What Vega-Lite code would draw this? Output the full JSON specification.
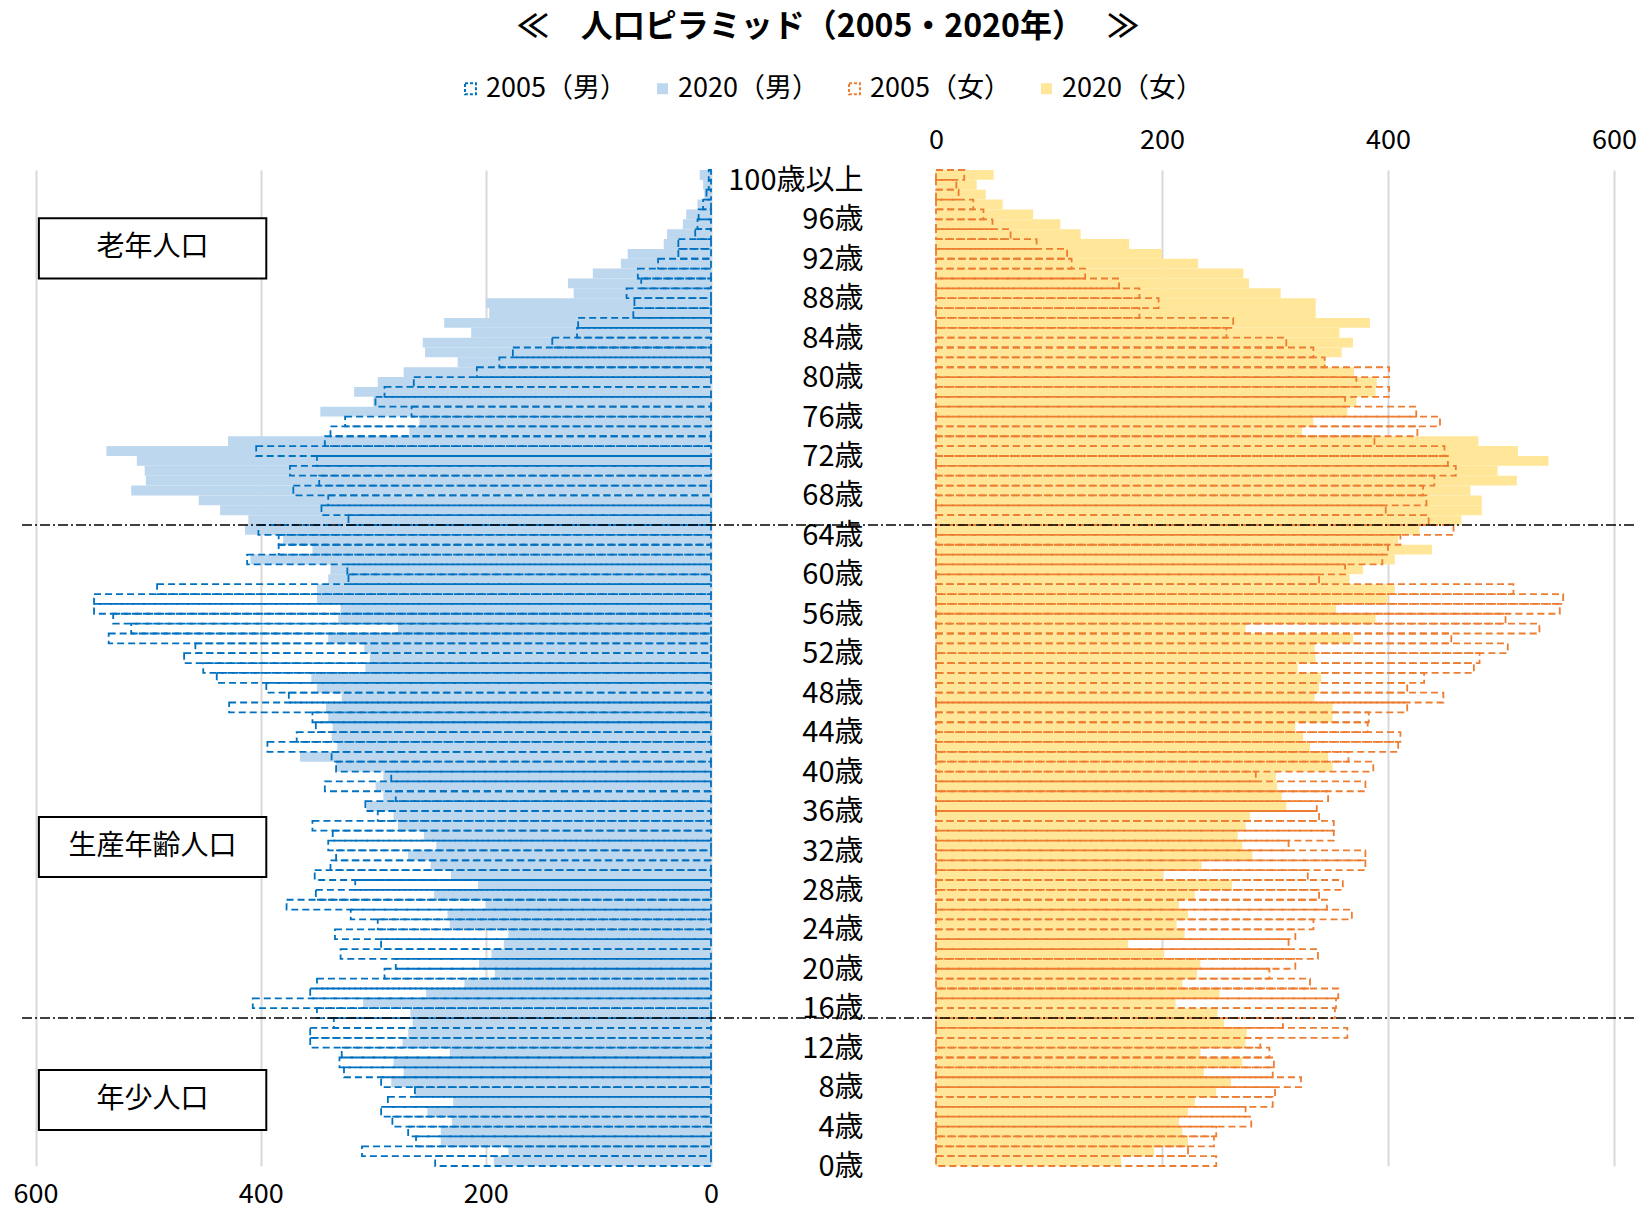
{
  "$schema": "https://vega.github.io/schema/vega-lite/v6.json",
  "width": 1612,
  "height": 996,
  "autosize": {"type": "none"},
  "padding": {"left": 22, "top": 170, "right": 10, "bottom": 43},
  "background": "white",
  "config": {
    "view": {"stroke": null},
    "font": "Noto Sans CJK JP",
    "axis": {"labelFont": "Noto Sans CJK JP", "labelColor": "#000"},
    "legend": {"labelFont": "Noto Sans CJK JP"}
  },
  "title": {"text": "≪　人口ピラミッド（2005・2020年）　  ≫", "fontSize": 32, "fontWeight": "bold", "font": "Noto Sans CJK JP", "color": "#000", "anchor": "middle", "offset": 31},
  "data": {"values": [
    {"age":100,"m05":2,"m20":10,"f05":25,"f20":51},
    {"age":99,"m05":2,"m20":7,"f05":18,"f20":36},
    {"age":98,"m05":4,"m20":6,"f05":20,"f20":44},
    {"age":97,"m05":7,"m20":12,"f05":33,"f20":59},
    {"age":96,"m05":11,"m20":22,"f05":42,"f20":86},
    {"age":95,"m05":12,"m20":25,"f05":50,"f20":110},
    {"age":94,"m05":14,"m20":39,"f05":66,"f20":128},
    {"age":93,"m05":29,"m20":42,"f05":89,"f20":171},
    {"age":92,"m05":29,"m20":74,"f05":116,"f20":200},
    {"age":91,"m05":47,"m20":80,"f05":120,"f20":232},
    {"age":90,"m05":65,"m20":105,"f05":132,"f20":272},
    {"age":89,"m05":62,"m20":127,"f05":162,"f20":277},
    {"age":88,"m05":75,"m20":122,"f05":180,"f20":305},
    {"age":87,"m05":68,"m20":200,"f05":197,"f20":336},
    {"age":86,"m05":69,"m20":197,"f05":180,"f20":336},
    {"age":85,"m05":118,"m20":237,"f05":263,"f20":384},
    {"age":84,"m05":119,"m20":213,"f05":257,"f20":357},
    {"age":83,"m05":141,"m20":256,"f05":310,"f20":369},
    {"age":82,"m05":176,"m20":254,"f05":334,"f20":359},
    {"age":81,"m05":188,"m20":225,"f05":344,"f20":345},
    {"age":80,"m05":208,"m20":273,"f05":401,"f20":370},
    {"age":79,"m05":264,"m20":296,"f05":372,"f20":390},
    {"age":78,"m05":290,"m20":317,"f05":401,"f20":389},
    {"age":77,"m05":298,"m20":300,"f05":362,"f20":372},
    {"age":76,"m05":266,"m20":347,"f05":425,"f20":364},
    {"age":75,"m05":325,"m20":259,"f05":446,"f20":334},
    {"age":74,"m05":338,"m20":268,"f05":426,"f20":324},
    {"age":73,"m05":343,"m20":429,"f05":388,"f20":480},
    {"age":72,"m05":404,"m20":537,"f05":450,"f20":515},
    {"age":71,"m05":350,"m20":510,"f05":453,"f20":542},
    {"age":70,"m05":374,"m20":503,"f05":460,"f20":497},
    {"age":69,"m05":348,"m20":502,"f05":441,"f20":514},
    {"age":68,"m05":371,"m20":515,"f05":431,"f20":473},
    {"age":67,"m05":340,"m20":455,"f05":434,"f20":483},
    {"age":66,"m05":346,"m20":436,"f05":398,"f20":483},
    {"age":65,"m05":322,"m20":411,"f05":436,"f20":465},
    {"age":64,"m05":402,"m20":414,"f05":458,"f20":428},
    {"age":63,"m05":384,"m20":380,"f05":411,"f20":409},
    {"age":62,"m05":384,"m20":354,"f05":400,"f20":439},
    {"age":61,"m05":412,"m20":409,"f05":395,"f20":406},
    {"age":60,"m05":323,"m20":338,"f05":362,"f20":378},
    {"age":59,"m05":322,"m20":340,"f05":339,"f20":366},
    {"age":58,"m05":492,"m20":350,"f05":511,"f20":406},
    {"age":57,"m05":548,"m20":350,"f05":555,"f20":400},
    {"age":56,"m05":548,"m20":329,"f05":552,"f20":354},
    {"age":55,"m05":531,"m20":331,"f05":504,"f20":389},
    {"age":54,"m05":515,"m20":278,"f05":534,"f20":274},
    {"age":53,"m05":535,"m20":340,"f05":456,"f20":369},
    {"age":52,"m05":458,"m20":308,"f05":506,"f20":335},
    {"age":51,"m05":468,"m20":303,"f05":481,"f20":336},
    {"age":50,"m05":451,"m20":307,"f05":476,"f20":320},
    {"age":49,"m05":439,"m20":355,"f05":432,"f20":341},
    {"age":48,"m05":395,"m20":350,"f05":417,"f20":339},
    {"age":47,"m05":375,"m20":328,"f05":449,"f20":335},
    {"age":46,"m05":428,"m20":342,"f05":417,"f20":351},
    {"age":45,"m05":354,"m20":340,"f05":383,"f20":351},
    {"age":44,"m05":351,"m20":336,"f05":382,"f20":318},
    {"age":43,"m05":368,"m20":337,"f05":411,"f20":325},
    {"age":42,"m05":394,"m20":332,"f05":409,"f20":331},
    {"age":41,"m05":337,"m20":365,"f05":365,"f20":347},
    {"age":40,"m05":333,"m20":333,"f05":387,"f20":351},
    {"age":39,"m05":284,"m20":291,"f05":283,"f20":301},
    {"age":38,"m05":343,"m20":298,"f05":380,"f20":302},
    {"age":37,"m05":280,"m20":291,"f05":347,"f20":306},
    {"age":36,"m05":307,"m20":306,"f05":337,"f20":310},
    {"age":35,"m05":296,"m20":282,"f05":339,"f20":278},
    {"age":34,"m05":354,"m20":278,"f05":352,"f20":274},
    {"age":33,"m05":336,"m20":255,"f05":352,"f20":267},
    {"age":32,"m05":340,"m20":244,"f05":312,"f20":271},
    {"age":31,"m05":333,"m20":269,"f05":380,"f20":280},
    {"age":30,"m05":338,"m20":249,"f05":380,"f20":235},
    {"age":29,"m05":352,"m20":231,"f05":329,"f20":201},
    {"age":28,"m05":316,"m20":207,"f05":360,"f20":262},
    {"age":27,"m05":351,"m20":246,"f05":339,"f20":229},
    {"age":26,"m05":377,"m20":200,"f05":346,"f20":215},
    {"age":25,"m05":320,"m20":234,"f05":368,"f20":223},
    {"age":24,"m05":296,"m20":232,"f05":334,"f20":213},
    {"age":23,"m05":334,"m20":180,"f05":318,"f20":220},
    {"age":22,"m05":293,"m20":184,"f05":312,"f20":170},
    {"age":21,"m05":329,"m20":195,"f05":338,"f20":202},
    {"age":20,"m05":280,"m20":206,"f05":318,"f20":234},
    {"age":19,"m05":290,"m20":192,"f05":295,"f20":231},
    {"age":18,"m05":350,"m20":219,"f05":331,"f20":218},
    {"age":17,"m05":356,"m20":253,"f05":356,"f20":251},
    {"age":16,"m05":407,"m20":309,"f05":354,"f20":212},
    {"age":15,"m05":350,"m20":267,"f05":353,"f20":249},
    {"age":14,"m05":335,"m20":265,"f05":307,"f20":255},
    {"age":13,"m05":356,"m20":269,"f05":364,"f20":275},
    {"age":12,"m05":356,"m20":274,"f05":287,"f20":274},
    {"age":11,"m05":328,"m20":232,"f05":295,"f20":234},
    {"age":10,"m05":330,"m20":282,"f05":299,"f20":271},
    {"age":9,"m05":326,"m20":273,"f05":298,"f20":237},
    {"age":8,"m05":293,"m20":284,"f05":323,"f20":261},
    {"age":7,"m05":263,"m20":263,"f05":300,"f20":248},
    {"age":6,"m05":287,"m20":229,"f05":298,"f20":229},
    {"age":5,"m05":293,"m20":252,"f05":274,"f20":223},
    {"age":4,"m05":283,"m20":230,"f05":279,"f20":215},
    {"age":3,"m05":269,"m20":240,"f05":248,"f20":218},
    {"age":2,"m05":262,"m20":240,"f05":246,"f20":223},
    {"age":1,"m05":310,"m20":180,"f05":223,"f20":193},
    {"age":0,"m05":245,"m20":193,"f05":248,"f20":164}
  ]},
  "resolve": {"scale": {"x": "independent", "y": "independent"}},
  "layer": [
    {
      "mark": {"type": "bar", "strokeWidth": 0},
      "encoding": {
        "y": {"field": "age", "type": "ordinal", "sort": "descending", "scale": {"paddingInner": 0, "paddingOuter": 0},
              "axis": {"orient": "left", "offset": -841, "values": [0,4,8,12,16,20,24,28,32,36,40,44,48,52,56,60,64,68,72,76,80,84,88,92,96,100],
                       "labelExpr": "datum.value == 100 ? '100歳以上' : datum.value + '歳'", "bandPosition": 1, "ticks": false, "domain": false, "grid": false,
                       "title": null, "labelFontSize": 29, "labelPadding": 0, "labelOffset": 6, "labelAlign": "right", "labelBaseline": "middle"}},
        "x": {"field": "m20", "type": "quantitative", "scale": {"domain": [0, 600], "range": [689, 13.5], "nice": false},
              "axis": {"orient": "bottom", "values": [0, 200, 400, 600], "grid": true, "gridColor": "#D9D9D9", "gridWidth": 2, "domain": false, "ticks": false, "tickSize": 0,
                       "labelPadding": 15, "labelFontSize": 27, "labelFlush": false, "title": null}},
        "fill": {"datum": "2020（男）", "type": "nominal",
                 "scale": {"domain": ["2005（男）", "2020（男）", "2005（女）", "2020（女）"], "range": ["transparent", "#BDD7EE", "transparent", "#FFE699"]},
                 "legend": {"orient": "none", "legendX": 435, "legendY": -95, "direction": "horizontal", "columns": 4, "title": null, "padding": 0,
                            "symbolType": "square", "symbolSize": 120, "symbolStrokeWidth": 2, "symbolDash": [3, 2], "labelFontSize": 27, "labelColor": "#000",
                            "columnPadding": 22, "labelOffset": 2, "labelLimit": 0}},
        "stroke": {"datum": "2020（男）", "type": "nominal",
                   "scale": {"domain": ["2005（男）", "2020（男）", "2005（女）", "2020（女）"], "range": ["#0070C0", "transparent", "#ED7D31", "transparent"]},
                   "legend": {"orient": "none", "legendX": 435, "legendY": -95, "direction": "horizontal", "columns": 4, "title": null, "padding": 0,
                              "symbolType": "square", "symbolSize": 120, "symbolStrokeWidth": 2, "symbolDash": [3, 2], "labelFontSize": 27, "labelColor": "#000",
                              "columnPadding": 22, "labelOffset": 2, "labelLimit": 0}}
      }
    },
    {
      "mark": {"type": "bar", "strokeWidth": 0},
      "encoding": {
        "y": {"field": "age", "type": "ordinal", "sort": "descending", "scale": {"paddingInner": 0, "paddingOuter": 0}, "axis": null},
        "x": {"field": "f20", "type": "quantitative", "scale": {"domain": [0, 600], "range": [914, 1592], "nice": false},
              "axis": {"orient": "top", "values": [0, 200, 400, 600], "grid": true, "gridColor": "#D9D9D9", "gridWidth": 2, "domain": false, "ticks": false, "tickSize": 0,
                       "labelPadding": 16, "labelFontSize": 27, "labelFlush": false, "title": null}},
        "fill": {"datum": "2020（女）", "type": "nominal"},
        "stroke": {"datum": "2020（女）", "type": "nominal"}
      }
    },
    {
      "mark": {"type": "bar", "strokeWidth": 1.8, "strokeDash": [7, 4]},
      "encoding": {
        "y": {"field": "age", "type": "ordinal", "sort": "descending", "scale": {"paddingInner": 0, "paddingOuter": 0}, "axis": null},
        "x": {"field": "m05", "type": "quantitative", "scale": {"domain": [0, 600], "range": [689, 13.5], "nice": false}, "axis": null},
        "fill": {"datum": "2005（男）", "type": "nominal"},
        "stroke": {"datum": "2005（男）", "type": "nominal"}
      }
    },
    {
      "mark": {"type": "bar", "strokeWidth": 1.8, "strokeDash": [7, 4]},
      "encoding": {
        "y": {"field": "age", "type": "ordinal", "sort": "descending", "scale": {"paddingInner": 0, "paddingOuter": 0}, "axis": null},
        "x": {"field": "f05", "type": "quantitative", "scale": {"domain": [0, 600], "range": [914, 1592], "nice": false}, "axis": null},
        "fill": {"datum": "2005（女）", "type": "nominal"},
        "stroke": {"datum": "2005（女）", "type": "nominal"}
      }
    },
    {
      "data": {"values": [{"boundary": 15}, {"boundary": 65}]},
      "mark": {"type": "rule", "color": "#000", "strokeWidth": 1.5, "strokeDash": [10, 3, 2, 3]},
      "encoding": {
        "y": {"field": "boundary", "type": "quantitative", "scale": {"domain": [0, 101], "nice": false, "zero": false}, "axis": null}
      }
    },
    {
      "data": {"values": [{}]},
      "layer": [
        {"mark": {"type": "rect", "fill": "white", "stroke": "#000", "strokeWidth": 2},
         "encoding": {
           "x": {"datum": 597, "type": "quantitative", "scale": {"domain": [0, 600], "range": [689, 13.5], "nice": false}, "axis": null},
           "x2": {"datum": 395},
           "y": {"datum": 96.1, "type": "quantitative", "scale": {"domain": [0, 101], "nice": false, "zero": false}, "axis": null},
           "y2": {"datum": 90.0}
         }},
        {"mark": {"type": "text", "text": "老年人口", "fontSize": 28, "font": "Noto Sans CJK JP", "color": "#000", "align": "center", "baseline": "middle"},
         "encoding": {
           "x": {"datum": 496, "type": "quantitative"},
           "y": {"datum": 93.05, "type": "quantitative"}
         }}
      ]
    },
    {
      "data": {"values": [{}]},
      "layer": [
        {"mark": {"type": "rect", "fill": "white", "stroke": "#000", "strokeWidth": 2},
         "encoding": {
           "x": {"datum": 597, "type": "quantitative", "scale": {"domain": [0, 600], "range": [689, 13.5], "nice": false}, "axis": null},
           "x2": {"datum": 395},
           "y": {"datum": 35.4, "type": "quantitative", "scale": {"domain": [0, 101], "nice": false, "zero": false}, "axis": null},
           "y2": {"datum": 29.3}
         }},
        {"mark": {"type": "text", "text": "生産年齢人口", "fontSize": 28, "font": "Noto Sans CJK JP", "color": "#000", "align": "center", "baseline": "middle"},
         "encoding": {
           "x": {"datum": 496, "type": "quantitative"},
           "y": {"datum": 32.35, "type": "quantitative"}
         }}
      ]
    },
    {
      "data": {"values": [{}]},
      "layer": [
        {"mark": {"type": "rect", "fill": "white", "stroke": "#000", "strokeWidth": 2},
         "encoding": {
           "x": {"datum": 597, "type": "quantitative", "scale": {"domain": [0, 600], "range": [689, 13.5], "nice": false}, "axis": null},
           "x2": {"datum": 395},
           "y": {"datum": 9.74, "type": "quantitative", "scale": {"domain": [0, 101], "nice": false, "zero": false}, "axis": null},
           "y2": {"datum": 3.65}
         }},
        {"mark": {"type": "text", "text": "年少人口", "fontSize": 28, "font": "Noto Sans CJK JP", "color": "#000", "align": "center", "baseline": "middle"},
         "encoding": {
           "x": {"datum": 496, "type": "quantitative"},
           "y": {"datum": 6.7, "type": "quantitative"}
         }}
      ]
    }
  ]
}
